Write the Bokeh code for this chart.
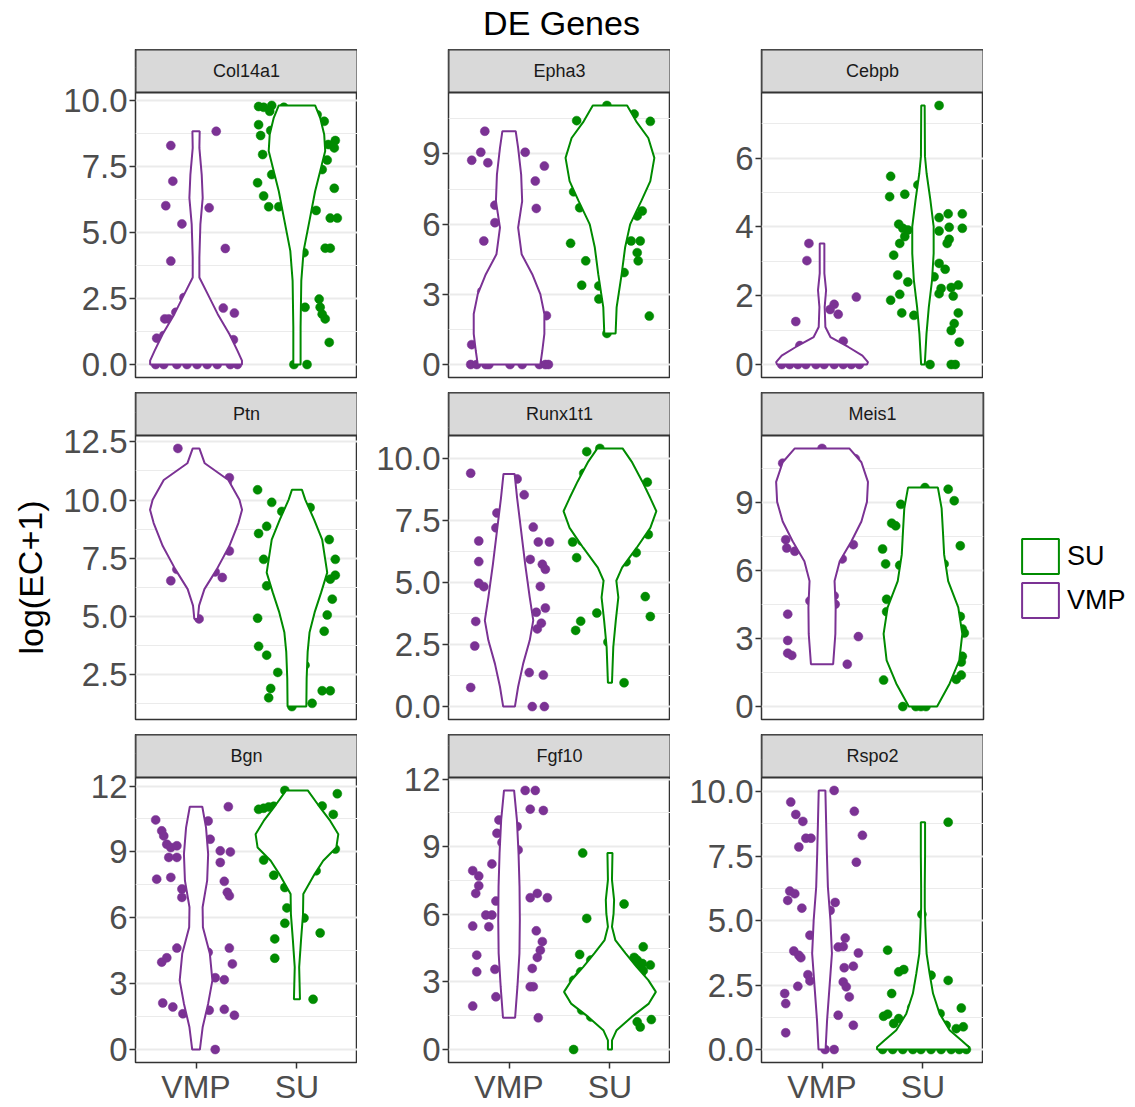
from bokeh.plotting import figure
from bokeh.models import FixedTicker, Legend, LegendItem, Range1d, ColumnDataSource
from bokeh.layouts import row, column
from bokeh.embed import file_html
from bokeh.resources import INLINE
from bokeh.core.properties import value

# ---------------- data ----------------
GROUPS = ["VMP", "SU"]
GROUP_POS = [1, 2]
GENES = ["Col14a1", "Epha3", "Cebpb", "Ptn", "Runx1t1", "Meis1", "Bgn", "Fgf10", "Rspo2"]
TITLE = "DE Genes"
Y_LABEL = "log(EC+1)"
COLORS = {"VMP": "#7B3294", "SU": "#008B00"}

# --- Col14a1
col14a1_vmp_y = [8.30, 8.84, 6.95, 6.02, 5.94, 5.33, 4.40, 3.92, 2.54, 2.14, 1.95, 1.98, 1.73, 1.73, 1.00, 1.10, 0.94, 0, 0, 0, 0, 0, 0, 0, 0, 0]
col14a1_vmp_jit = [-0.25, 0.20, -0.23, -0.30, 0.13, -0.14, 0.29, -0.25, -0.12, 0.27, 0.38, -0.20, -0.31, -0.27, -0.39, -0.32, 0.37, -0.40, -0.32, -0.19, -0.09, 0.01, 0.11, 0.21, 0.34, 0.41]
col14a1_su_y = [9.78, 9.75, 9.82, 9.60, 9.75, 9.09, 8.68, 8.87, 9.47, 9.22, 8.49, 8.21, 8.34, 7.96, 7.20, 7.75, 7.39, 6.89, 6.39, 5.98, 5.98, 6.68, 5.84, 5.55, 5.55, 4.41, 4.41, 4.24, 2.48, 2.17, 2.17, 1.91, 1.73, 0.84, 0, 0]
col14a1_su_jit = [-0.38, -0.33, -0.25, -0.27, -0.13, -0.38, -0.36, -0.26, 0.20, 0.27, 0.38, 0.37, 0.31, -0.34, -0.25, 0.30, 0.25, -0.39, -0.33, -0.28, -0.18, 0.37, 0.19, 0.33, 0.40, 0.28, 0.33, 0.07, 0.22, 0.23, 0.08, 0.25, 0.28, 0.32, -0.03, 0.10]
col14a1_vmp_vy = [8.84, 8.21, 7.20, 6.32, 5.31, 4.06, 3.30, 2.67, 1.91, 1.16, 0.53, 0.15, 0]
col14a1_vmp_vw = [0.036, 0.033, 0.056, 0.066, 0.043, 0.033, 0.033, 0.116, 0.215, 0.33, 0.41, 0.455, 0.455]
col14a1_su_vy = [9.82, 9.35, 8.72, 8.09, 7.33, 6.57, 5.57, 4.31, 3.17, 1.41, 0]
col14a1_su_vw = [0.18, 0.23, 0.27, 0.28, 0.23, 0.18, 0.13, 0.066, 0.043, 0.036, 0.036]

# --- Epha3
epha3_vmp_y = [9.97, 9.07, 8.73, 8.62, 9.07, 8.48, 7.84, 6.67, 6.81, 6.06, 5.28, 3.12, 2.09, 0.85, 0, 0, 0, 0, 0, 0, 0, 0, 0]
epha3_vmp_jit = [-0.24, -0.28, -0.37, -0.21, 0.16, 0.35, 0.26, 0.27, -0.14, -0.14, -0.25, -0.27, 0.37, -0.37, -0.38, -0.32, -0.23, -0.20, 0.01, 0.13, 0.30, 0.36, 0.39]
epha3_su_y = [11.07, 10.42, 10.70, 10.39, 5.18, 4.43, 7.38, 6.70, 3.39, 3.36, 2.80, 1.33, 3.93, 5.28, 5.28, 4.78, 4.43, 6.35, 6.56, 2.07]
epha3_su_jit = [-0.03, -0.33, 0.24, 0.40, -0.39, -0.24, -0.36, -0.30, -0.28, -0.11, -0.11, -0.03, 0.14, 0.21, 0.30, 0.27, 0.28, 0.27, 0.32, 0.39]
epha3_vmp_vy = [9.97, 9.26, 8.12, 6.98, 5.85, 4.71, 3.86, 3.01, 2.16, 1.31, 0.60, 0]
epha3_vmp_vw = [0.066, 0.09, 0.12, 0.13, 0.09, 0.125, 0.23, 0.31, 0.35, 0.35, 0.33, 0.31]
epha3_su_vy = [11.07, 10.39, 9.68, 8.83, 7.84, 6.98, 5.99, 5.00, 3.86, 2.44, 1.33]
epha3_su_vw = [0.17, 0.26, 0.38, 0.44, 0.40, 0.31, 0.20, 0.15, 0.116, 0.066, 0.056]

# --- Cebpb
cebpb_vmp_y = [3.52, 3.02, 1.25, 1.75, 1.46, 1.60, 1.96, 0.68, 0.55, 0, 0, 0, 0, 0, 0, 0, 0, 0, 0]
cebpb_vmp_jit = [-0.13, -0.15, -0.26, 0.12, 0.16, 0.08, 0.34, 0.21, -0.22, -0.40, -0.32, -0.24, -0.16, -0.06, 0.02, 0.12, 0.21, 0.29, 0.37]
cebpb_su_y = [7.53, 5.47, 4.88, 4.95, 5.22, 4.08, 3.96, 3.91, 3.72, 3.52, 3.18, 2.60, 2.40, 2.04, 1.87, 1.50, 1.43, 4.27, 4.38, 4.38, 3.88, 3.99, 3.96, 3.64, 3.52, 2.94, 2.77, 2.55, 2.21, 2.24, 2.31, 2.06, 1.99, 1.50, 1.19, 0.99, 0.65, 0, 0, 0]
cebpb_su_jit = [0.16, -0.32, -0.33, -0.18, -0.05, -0.24, -0.20, -0.15, -0.18, -0.23, -0.29, -0.25, -0.15, -0.23, -0.32, -0.21, -0.09, 0.16, 0.25, 0.39, 0.16, 0.26, 0.39, 0.26, 0.24, 0.16, 0.22, 0.11, 0.18, 0.28, 0.35, 0.16, 0.30, 0.35, 0.31, 0.28, 0.36, 0.07, 0.28, 0.32]
cebpb_vmp_vy = [3.52, 2.65, 2.16, 1.67, 1.09, 0.80, 0.51, 0.26, 0.07, 0]
cebpb_vmp_vw = [0.023, 0.023, 0.04, 0.026, 0.033, 0.083, 0.26, 0.40, 0.455, 0.445]
cebpb_su_vy = [7.53, 6.05, 5.56, 4.79, 4.01, 3.23, 2.45, 1.67, 0.89, 0]
cebpb_su_vw = [0.017, 0.02, 0.036, 0.073, 0.106, 0.106, 0.09, 0.058, 0.035, 0.018]

# --- Ptn
ptn_vmp_y = [12.22, 10.96, 10.79, 7.81, 6.53, 7.02, 6.91, 6.67, 4.89]
ptn_vmp_jit = [-0.18, 0.33, 0.31, 0.33, -0.25, -0.19, 0.19, 0.26, 0.03]
ptn_su_y = [10.44, 9.90, 9.51, 8.87, 8.56, 9.68, 8.30, 7.45, 7.45, 6.77, 6.60, 6.31, 5.74, 5.06, 4.92, 4.36, 3.71, 3.33, 2.59, 2.90, 1.90, 1.50, 1.80, 1.80, 1.12, 1.26]
ptn_su_jit = [-0.39, -0.25, -0.15, -0.30, -0.38, 0.13, 0.32, -0.33, 0.38, 0.38, 0.33, -0.30, 0.35, 0.30, -0.39, 0.27, -0.38, -0.30, -0.19, 0.08, -0.26, -0.28, 0.25, 0.33, -0.05, 0.15]
ptn_vmp_vy = [12.22, 11.58, 10.86, 10.01, 9.58, 9.01, 8.02, 7.02, 6.17, 5.46, 4.89]
ptn_vmp_vw = [0.033, 0.086, 0.32, 0.43, 0.456, 0.42, 0.33, 0.205, 0.083, 0.03, 0.017]
ptn_su_vy = [10.44, 10.01, 9.16, 8.30, 7.45, 6.88, 6.03, 5.17, 4.32, 3.47, 2.33, 1.12]
ptn_su_vw = [0.05, 0.083, 0.17, 0.25, 0.28, 0.30, 0.24, 0.175, 0.125, 0.106, 0.096, 0.093]

# --- Runx1t1
runx1t1_vmp_y = [9.40, 9.17, 8.53, 7.80, 7.20, 7.23, 6.67, 6.63, 6.63, 5.93, 5.84, 5.73, 5.53, 4.97, 4.83, 4.84, 3.97, 3.80, 3.43, 3.36, 3.13, 2.44, 1.37, 1.27, 0.77, 0, 0]
runx1t1_vmp_jit = [-0.38, 0.08, 0.15, -0.12, -0.13, 0.24, -0.30, 0.29, 0.40, 0.21, -0.30, 0.33, 0.36, -0.30, -0.25, 0.31, 0.36, 0.27, -0.33, 0.32, 0.28, -0.34, 0.20, 0.34, -0.38, 0.23, 0.35]
runx1t1_su_y = [10.27, 10.40, 9.04, 9.40, 6.63, 6.67, 7.00, 6.00, 6.93, 6.20, 5.83, 4.43, 3.63, 3.77, 3.07, 3.44, 2.60, 0.96]
runx1t1_su_jit = [-0.23, -0.10, 0.37, -0.26, -0.37, -0.28, -0.32, -0.33, 0.38, 0.26, 0.16, 0.35, 0.40, -0.13, -0.34, -0.29, -0.02, 0.14]
runx1t1_vmp_vy = [9.37, 8.40, 7.07, 5.73, 4.40, 3.47, 2.67, 1.73, 0.80, 0]
runx1t1_vmp_vw = [0.055, 0.08, 0.12, 0.16, 0.205, 0.24, 0.205, 0.14, 0.09, 0.058]
runx1t1_su_vy = [10.40, 9.87, 9.07, 8.40, 7.87, 7.20, 6.40, 5.60, 5.07, 4.40, 3.47, 2.40, 0.96]
runx1t1_su_vw = [0.125, 0.215, 0.32, 0.40, 0.46, 0.40, 0.265, 0.12, 0.063, 0.083, 0.058, 0.033, 0.02]

# --- Meis1
meis1_vmp_y = [11.40, 10.75, 10.94, 7.37, 7.00, 6.86, 7.15, 6.52, 4.67, 4.89, 4.52, 4.08, 2.92, 2.36, 2.26, 3.09, 1.87]
meis1_vmp_jit = [0.0, -0.39, 0.33, -0.36, -0.35, -0.27, 0.31, 0.20, -0.12, 0.12, 0.13, -0.34, -0.34, -0.34, -0.30, 0.36, 0.25]
meis1_su_y = [9.67, 9.60, 9.09, 8.93, 8.10, 7.98, 6.96, 7.10, 6.30, 6.24, 6.30, 4.74, 4.19, 3.98, 3.43, 3.25, 2.22, 1.97, 1.39, 1.20, 1.17, 0, 0, 0, 0]
meis1_su_jit = [0.02, 0.25, 0.31, -0.22, -0.31, -0.27, -0.40, 0.37, -0.37, -0.23, 0.21, -0.36, -0.36, 0.37, 0.39, 0.41, 0.39, 0.38, 0.38, 0.33, -0.39, -0.20, -0.07, -0.02, 0.03]
meis1_vmp_vy = [11.40, 10.79, 9.92, 9.04, 8.17, 7.29, 6.42, 5.54, 4.38, 3.21, 1.87]
meis1_vmp_vw = [0.27, 0.39, 0.455, 0.445, 0.39, 0.29, 0.175, 0.124, 0.135, 0.132, 0.11]
meis1_su_vy = [9.67, 8.75, 7.73, 6.71, 5.54, 4.38, 3.21, 2.04, 1.02, 0]
meis1_su_vw = [0.148, 0.185, 0.198, 0.21, 0.25, 0.35, 0.39, 0.36, 0.265, 0.14]

# --- Bgn
bgn_vmp_y = [10.46, 9.96, 9.73, 9.35, 9.20, 9.28, 8.75, 8.75, 7.76, 7.84, 7.31, 6.93, 10.41, 9.58, 11.06, 9.05, 9.00, 8.52, 7.66, 7.16, 7.00, 3.98, 4.18, 4.62, 4.43, 4.62, 3.90, 3.27, 3.18, 2.12, 1.94, 1.63, 1.79, 1.83, 1.56, 0]
bgn_vmp_jit = [-0.40, -0.34, -0.32, -0.29, -0.25, -0.19, -0.27, -0.19, -0.39, -0.25, -0.14, -0.14, 0.12, 0.14, 0.32, 0.24, 0.34, 0.24, 0.28, 0.31, 0.33, -0.34, -0.29, -0.19, 0.12, 0.33, 0.36, 0.19, 0.28, -0.33, -0.23, -0.13, 0.13, 0.28, 0.38, 0.19]
bgn_su_y = [11.80, 11.65, 10.94, 10.99, 11.05, 11.08, 11.09, 10.71, 9.13, 8.63, 8.14, 7.94, 7.38, 6.45, 5.75, 5.99, 5.31, 5.04, 4.16, 2.29]
bgn_su_jit = [-0.12, 0.40, -0.38, -0.33, -0.28, -0.23, 0.25, 0.36, 0.38, -0.33, 0.19, -0.23, -0.12, -0.10, -0.12, 0.07, 0.23, -0.22, -0.22, 0.16]
bgn_vmp_vy = [11.06, 10.11, 8.90, 7.69, 6.48, 5.57, 4.36, 3.15, 2.09, 1.03, 0]
bgn_vmp_vw = [0.062, 0.099, 0.12, 0.11, 0.065, 0.068, 0.137, 0.162, 0.12, 0.066, 0.038]
bgn_su_vy = [11.80, 11.17, 10.41, 9.81, 9.20, 8.60, 7.99, 7.08, 6.17, 4.96, 3.75, 2.29]
bgn_su_vw = [0.107, 0.206, 0.33, 0.41, 0.39, 0.26, 0.175, 0.063, 0.06, 0.04, 0.022, 0.03]

# --- Fgf10
fgf10_vmp_y = [11.50, 11.50, 10.67, 10.61, 10.19, 9.60, 9.90, 9.19, 8.86, 8.24, 7.94, 7.70, 7.27, 6.93, 6.59, 6.74, 6.93, 6.74, 5.97, 5.97, 5.45, 5.48, 5.27, 4.79, 4.41, 4.09, 4.19, 3.60, 3.56, 3.45, 2.79, 2.79, 2.34, 1.93, 1.41]
fgf10_vmp_jit = [0.16, 0.26, 0.21, 0.34, -0.10, -0.12, 0.08, -0.07, 0.09, -0.17, -0.36, -0.30, -0.30, -0.33, -0.13, 0.21, 0.28, 0.38, -0.23, -0.17, -0.20, -0.36, 0.27, 0.33, 0.31, 0.28, -0.32, 0.23, -0.14, -0.32, 0.21, 0.24, -0.13, -0.36, 0.29]
fgf10_su_y = [8.72, 6.46, 5.82, 4.22, 3.97, 3.45, 3.23, 4.56, 4.09, 3.97, 3.82, 3.67, 3.75, 3.38, 3.50, 3.08, 2.19, 1.75, 1.45, 1.23, 1.00, 1.33, 0]
fgf10_su_jit = [-0.27, 0.14, -0.23, -0.30, -0.19, -0.29, -0.31, 0.33, 0.24, 0.27, 0.32, 0.27, 0.40, 0.31, 0.33, -0.36, -0.36, -0.28, -0.19, 0.27, 0.30, 0.41, -0.36]
fgf10_vmp_vy = [11.50, 10.19, 8.71, 7.23, 5.75, 4.27, 2.79, 1.41]
fgf10_vmp_vw = [0.05, 0.078, 0.094, 0.104, 0.107, 0.103, 0.083, 0.06]
fgf10_su_vy = [8.72, 7.53, 6.64, 6.04, 5.45, 4.86, 4.27, 3.67, 3.08, 2.56, 2.04, 1.45, 0.86, 0.41, 0]
fgf10_su_vw = [0.025, 0.02, 0.041, 0.036, 0.02, 0.053, 0.155, 0.264, 0.38, 0.455, 0.385, 0.215, 0.066, 0.02, 0.02]

# --- Rspo2
rspo2_vmp_y = [10.04, 9.59, 9.11, 8.84, 9.23, 8.19, 8.19, 7.85, 8.30, 7.26, 6.14, 6.04, 5.78, 5.48, 5.70, 5.39, 4.43, 4.32, 3.82, 3.65, 3.56, 3.97, 3.99, 3.74, 3.17, 3.23, 2.90, 2.66, 2.62, 2.43, 2.04, 2.45, 2.17, 1.78, 1.33, 0.94, 0.65, 0, 0]
rspo2_vmp_jit = [0.12, -0.31, -0.26, -0.19, 0.32, -0.16, -0.11, -0.23, 0.40, 0.34, -0.32, -0.27, -0.34, -0.20, 0.13, 0.08, -0.12, 0.23, -0.28, -0.23, -0.21, 0.16, 0.21, 0.36, 0.22, 0.31, -0.14, -0.12, 0.21, 0.24, 0.27, -0.24, -0.37, -0.36, 0.16, 0.31, -0.36, 0.03, 0.12]
rspo2_su_y = [8.81, 5.24, 3.85, 3.01, 3.10, 2.88, 2.68, 2.17, 1.63, 1.61, 1.29, 1.37, 1.20, 1.01, 1.39, 0.94, 0.81, 0.88, 0, 0, 0, 0, 0, 0, 0, 0, 0, 0]
rspo2_su_jit = [0.25, -0.01, -0.35, -0.24, -0.19, 0.08, 0.25, -0.31, -0.11, 0.38, -0.39, -0.35, -0.24, -0.29, 0.17, 0.23, 0.33, 0.40, -0.40, -0.30, -0.20, -0.10, -0.02, 0.08, 0.18, 0.28, 0.36, 0.43]
rspo2_vmp_vy = [10.04, 8.88, 7.59, 6.30, 5.01, 3.72, 2.43, 1.14, 0]
rspo2_vmp_vw = [0.033, 0.04, 0.048, 0.058, 0.083, 0.098, 0.074, 0.05, 0.035]
rspo2_su_vy = [8.81, 7.59, 6.30, 5.52, 4.75, 3.72, 2.94, 2.17, 1.39, 0.75, 0.36, 0.10, 0]
rspo2_su_vw = [0.021, 0.021, 0.018, 0.018, 0.024, 0.036, 0.066, 0.10, 0.165, 0.265, 0.38, 0.455, 0.455]

# tick values and labels per panel
TICKS_25 = [0, 2.5, 5, 7.5, 10]
LABELS_25 = ["0.0", "2.5", "5.0", "7.5", "10.0"]
TICKS_3 = [0, 3, 6, 9]
LABELS_3 = ["0", "3", "6", "9"]
TICKS_2 = [0, 2, 4, 6]
LABELS_2 = ["0", "2", "4", "6"]
TICKS_PTN = [2.5, 5, 7.5, 10, 12.5]
LABELS_PTN = ["2.5", "5.0", "7.5", "10.0", "12.5"]
TICKS_12 = [0, 3, 6, 9, 12]
LABELS_12 = ["0", "3", "6", "9", "12"]

DATA = {
    "Col14a1": (col14a1_vmp_jit, col14a1_vmp_y, col14a1_su_jit, col14a1_su_y, col14a1_vmp_vy, col14a1_vmp_vw, col14a1_su_vy, col14a1_su_vw, TICKS_25, LABELS_25),
    "Epha3": (epha3_vmp_jit, epha3_vmp_y, epha3_su_jit, epha3_su_y, epha3_vmp_vy, epha3_vmp_vw, epha3_su_vy, epha3_su_vw, TICKS_3, LABELS_3),
    "Cebpb": (cebpb_vmp_jit, cebpb_vmp_y, cebpb_su_jit, cebpb_su_y, cebpb_vmp_vy, cebpb_vmp_vw, cebpb_su_vy, cebpb_su_vw, TICKS_2, LABELS_2),
    "Ptn": (ptn_vmp_jit, ptn_vmp_y, ptn_su_jit, ptn_su_y, ptn_vmp_vy, ptn_vmp_vw, ptn_su_vy, ptn_su_vw, TICKS_PTN, LABELS_PTN),
    "Runx1t1": (runx1t1_vmp_jit, runx1t1_vmp_y, runx1t1_su_jit, runx1t1_su_y, runx1t1_vmp_vy, runx1t1_vmp_vw, runx1t1_su_vy, runx1t1_su_vw, TICKS_25, LABELS_25),
    "Meis1": (meis1_vmp_jit, meis1_vmp_y, meis1_su_jit, meis1_su_y, meis1_vmp_vy, meis1_vmp_vw, meis1_su_vy, meis1_su_vw, TICKS_3, LABELS_3),
    "Bgn": (bgn_vmp_jit, bgn_vmp_y, bgn_su_jit, bgn_su_y, bgn_vmp_vy, bgn_vmp_vw, bgn_su_vy, bgn_su_vw, TICKS_12, LABELS_12),
    "Fgf10": (fgf10_vmp_jit, fgf10_vmp_y, fgf10_su_jit, fgf10_su_y, fgf10_vmp_vy, fgf10_vmp_vw, fgf10_su_vy, fgf10_su_vw, TICKS_12, LABELS_12),
    "Rspo2": (rspo2_vmp_jit, rspo2_vmp_y, rspo2_su_jit, rspo2_su_y, rspo2_vmp_vy, rspo2_vmp_vw, rspo2_su_vy, rspo2_su_vw, TICKS_25, LABELS_25),
}

# ---------------- styling / layout ----------------
FONT = "Liberation Sans"
FRAME_W = 222
FRAME_H = [285, 284, 285]
STRIP_H = 43
LEFT = [82, 91, 91]
GAP = 15
YLAB_W = 53
TITLE_H = 49
COL_H = 1050
LEGEND_PANEL = "Meis1"
LEG_RIGHT = 148


def make_panel(gene, ri, ci):
    vj, vy, sj, sy, vvy, vvw, svy, svw, ticks, labels = DATA[gene]
    allv = vy + sy + vvy + svy
    lo, hi = min(allv), max(allv)
    pad = 0.05 * (hi - lo)
    y0, y1 = lo - pad, hi + pad
    upp = (y1 - y0) / FRAME_H[ri]          # data units per pixel
    ytop = y1 + STRIP_H * upp              # strip sits above the data area
    bottom = ri == 2
    p = figure(frame_width=FRAME_W, frame_height=FRAME_H[ri] + STRIP_H,
               x_range=Range1d(0.4, 2.6), y_range=Range1d(y0, ytop),
               toolbar_location=None, output_backend="svg",
               min_border=0, min_border_left=LEFT[ci],
               min_border_bottom=(2 if bottom else GAP),
               min_border_right=(LEG_RIGHT if gene == LEGEND_PANEL else 0))
    p.outline_line_color = "#333333"
    p.outline_line_width = 1.5
    p.background_fill_color = "white"
    p.xgrid.visible = False

    minor = []
    step = ticks[1] - ticks[0]
    for t in [ticks[0] - step] + ticks:
        minor.append(t + step / 2)
    ticker = FixedTicker(ticks=ticks, minor_ticks=minor)
    p.yaxis.ticker = ticker
    p.ygrid.ticker = ticker
    p.yaxis.major_label_overrides = {t: l for t, l in zip(ticks, labels)}
    p.ygrid.grid_line_color = "#ebebeb"
    p.ygrid.grid_line_width = 2
    p.ygrid.minor_grid_line_color = "#ebebeb"
    p.ygrid.minor_grid_line_width = 1.2
    p.yaxis.axis_line_color = None
    p.yaxis.minor_tick_line_color = None
    p.yaxis.major_tick_line_color = "#333333"
    p.yaxis.major_tick_line_width = 1.5
    p.yaxis.major_tick_out = 6
    p.yaxis.major_tick_in = 0
    p.yaxis.major_label_standoff = 2
    p.yaxis.major_label_text_font = FONT
    p.yaxis.major_label_text_font_size = "33px"
    p.yaxis.major_label_text_color = "#4d4d4d"

    if bottom:
        p.xaxis.ticker = FixedTicker(ticks=GROUP_POS, minor_ticks=[])
        p.xaxis.major_label_overrides = {pos: g for pos, g in zip(GROUP_POS, GROUPS)}
        p.xaxis.axis_line_color = None
        p.xaxis.minor_tick_line_color = None
        p.xaxis.major_tick_line_color = "#333333"
        p.xaxis.major_tick_line_width = 1.5
        p.xaxis.major_tick_out = 6
        p.xaxis.major_tick_in = 0
        p.xaxis.major_label_standoff = 0
        p.xaxis.major_label_text_font = FONT
        p.xaxis.major_label_text_font_size = "32px"
        p.xaxis.major_label_text_color = "#4d4d4d"
    else:
        p.xaxis.visible = False

    groups = [("VMP", 1, vj, vy, vvy, vvw), ("SU", 2, sj, sy, svy, svw)]
    # jittered points first
    for g, c, jit, ys, _, _ in groups:
        src = ColumnDataSource(dict(x=[c + j for j in jit], y=ys))
        p.scatter("x", "y", source=src, size=9, fill_color=COLORS[g], line_color=COLORS[g], line_width=0.5)
    # violins on top
    rends = {}
    for g, c, _, _, vys, vws in groups:
        xs = [c + w for w in vws] + [c - w for w in reversed(vws)]
        ys = list(vys) + list(reversed(vys))
        rends[g] = p.patch(xs, ys, fill_color="white", line_color=COLORS[g], line_width=2)

    # facet strip above the data area
    p.quad(left=[0.4], right=[2.6], bottom=[y1], top=[ytop], fill_color="#d9d9d9",
           line_color="#333333", line_width=2)
    p.text(x=[1.5], y=[(y1 + ytop) / 2], text=[gene], text_align="center", text_baseline="middle",
           text_font=value(FONT), text_font_size="18px", text_color="#1a1a1a")

    if gene == LEGEND_PANEL:
        items = [LegendItem(label=g, renderers=[rends[g]]) for g in ["SU", "VMP"]]
        legend = Legend(items=items, location=(34, 97), padding=0, margin=0, spacing=0,
                        glyph_width=46, glyph_height=44, label_height=44, label_standoff=4,
                        label_text_font=FONT, label_text_font_size="27px", label_text_color="black",
                        border_line_color=None, background_fill_alpha=0)
        p.add_layout(legend, "right")
    return p


columns = []
for ci in range(3):
    items = []
    for ri in range(3):
        gene = GENES[ri * 3 + ci]
        items.append(make_panel(gene, ri, ci))
    columns.append(column(*items, spacing=0))

# y label
ylab = figure(width=YLAB_W, height=COL_H, x_range=Range1d(0, YLAB_W), y_range=Range1d(COL_H, 0),
              x_axis_type=None, y_axis_type=None, toolbar_location=None, output_backend="svg", min_border=0)
ylab.outline_line_color = None
ylab.grid.visible = False
ylab.text(x=[30], y=[528], text=[Y_LABEL], angle=1.5708, text_align="center", text_baseline="middle",
          text_font=value(FONT), text_font_size="34px", text_color="black")

# title
TOTAL_W = YLAB_W + LEFT[0] + FRAME_W + 2 * (LEFT[1] + FRAME_W)
tfig = figure(width=TOTAL_W, height=TITLE_H,
              x_range=Range1d(0, TOTAL_W), y_range=Range1d(TITLE_H, 0),
              x_axis_type=None, y_axis_type=None, toolbar_location=None, output_backend="svg", min_border=0)
tfig.outline_line_color = None
tfig.grid.visible = False
tfig.text(x=[561], y=[22], text=[TITLE], text_align="center", text_baseline="middle",
          text_font=value(FONT), text_font_size="34px", text_color="black")

layout = column(tfig, row(ylab, columns[0], columns[1], columns[2], spacing=0), spacing=0)

open("out.html", "w").write(file_html(layout, INLINE))
